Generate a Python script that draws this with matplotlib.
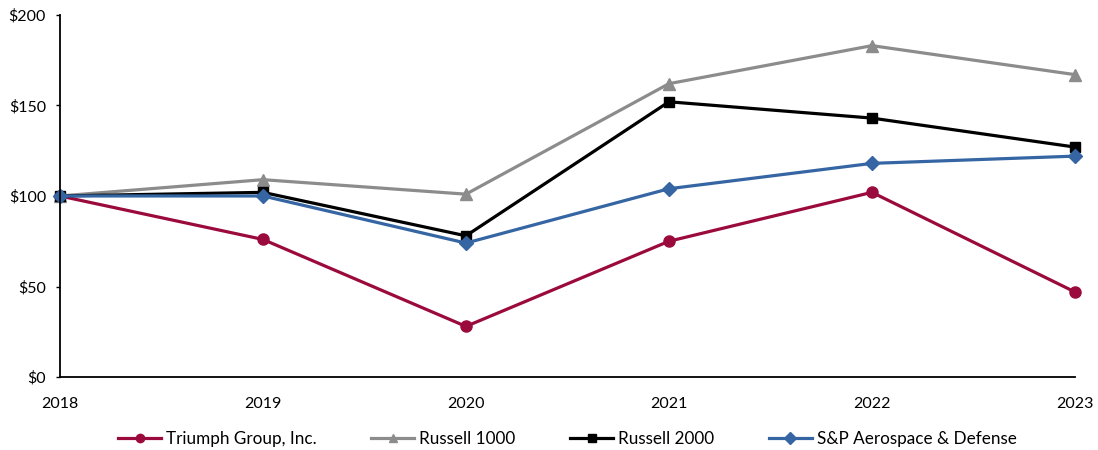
import matplotlib
matplotlib.use('Agg')
import matplotlib.pyplot as plt
from matplotlib.ticker import FuncFormatter

plt.rcParams['font.family'] = ['Lato', 'DejaVu Sans']

YEARS = [2018, 2019, 2020, 2021, 2022, 2023]
TRIUMPH = [100, 76, 28, 75, 102, 47]
RUSSELL_1000 = [100, 109, 101, 162, 183, 167]
RUSSELL_2000 = [100, 102, 78, 152, 143, 127]
SP_AERO = [100, 100, 74, 104, 118, 122]

RED = '#9b0a3c'
GREY = '#8c8c8c'
BLACK = '#000000'
BLUE = '#3566a3'

fig = plt.figure(figsize=(10.98, 4.5), dpi=100)
ax = fig.add_axes([0.0546, 0.162, 0.9244, 0.805])

ax.plot(YEARS, TRIUMPH, color=RED, lw=2.3, marker='o', ms=8,
        label='Triumph Group, Inc.')
ax.plot(YEARS, RUSSELL_1000, color=GREY, lw=2.3, marker='^', ms=8,
        label='Russell 1000')
ax.plot(YEARS, RUSSELL_2000, color=BLACK, lw=2.3, marker='s', ms=7.5,
        label='Russell 2000')
ax.plot(YEARS, SP_AERO, color=BLUE, lw=2.3, marker='D', ms=7.5,
        label='S&P Aerospace & Defense')

ax.set_xlim(YEARS[0], YEARS[-1])
ax.set_ylim(0, 200)
ax.set_yticks([0, 50, 100, 150, 200])
ax.yaxis.set_major_formatter(FuncFormatter(lambda v, p: '${:.0f}'.format(v)))
ax.set_xticks(YEARS)

for side in ['top', 'right']:
    ax.spines[side].set_visible(False)
ax.spines['left'].set_linewidth(1.3)
ax.spines['bottom'].set_linewidth(1.3)
ax.tick_params(axis='y', length=3, width=1.0, labelsize=11.5, pad=7)
ax.tick_params(axis='x', length=0, labelsize=11.5, pad=14)
for lab in ax.get_xticklabels() + ax.get_yticklabels():
    lab.set_clip_on(False)

for line in ax.get_lines():
    line.set_clip_on(False)

ax.legend(loc='upper center', bbox_to_anchor=(0.5, -0.105), ncol=4,
          frameon=False, fontsize=12.3, handlelength=2.5, handletextpad=0.3,
          columnspacing=3.2, markerscale=0.75)

plt.savefig('out.png', dpi=100)
plt.close()
